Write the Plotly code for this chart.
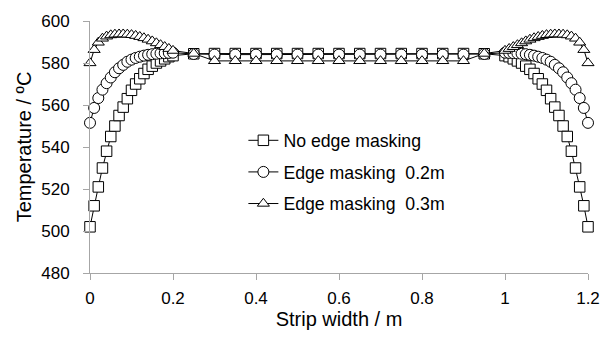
import plotly.graph_objects as go

# Strip positions (m): fine steps near each edge, coarse steps across the centre
x_left = [0.00, 0.01, 0.02, 0.03, 0.04, 0.05, 0.06, 0.07, 0.08, 0.09, 0.10,
          0.11, 0.12, 0.13, 0.14, 0.15, 0.16, 0.17, 0.18, 0.19, 0.20]
x_mid = [0.25, 0.30, 0.35, 0.40, 0.45, 0.50, 0.55, 0.60, 0.65, 0.70, 0.75,
         0.80, 0.85, 0.90, 0.95]
x_right = [1.00, 1.01, 1.02, 1.03, 1.04, 1.05, 1.06, 1.07, 1.08, 1.09, 1.10,
           1.11, 1.12, 1.13, 1.14, 1.15, 1.16, 1.17, 1.18, 1.19, 1.20]
strip_x = x_left + x_mid + x_right

# Temperature profiles (ºC)
no_mask = [502.0, 512.0, 521.0, 530.0, 538.0, 545.0, 550.0, 555.0, 559.0, 563.0, 567.0,
           570.0, 572.5, 575.0, 577.0, 578.5, 580.0, 581.0, 582.0, 583.0, 583.5,
           584.4, 584.5, 584.5, 584.5, 584.5, 584.5, 584.5, 584.5, 584.5, 584.5,
           584.5, 584.5, 584.5, 584.5, 584.4,
           583.5, 583.0, 582.0, 581.0, 580.0, 578.5, 577.0, 575.0, 572.5, 570.0,
           567.0, 563.0, 559.0, 555.0, 550.0, 545.0, 538.0, 530.0, 521.0, 512.0, 502.0]

mask_02 = [551.5, 558.6, 563.3, 567.3, 570.4, 573.1, 575.6, 577.5, 579.1, 580.6, 581.6,
           582.4, 583.0, 583.5, 583.9, 584.2, 584.4, 584.6, 584.7, 584.8, 584.9,
           584.3, 584.0, 584.0, 584.0, 584.0, 584.0, 584.0, 584.0, 584.0, 584.0,
           584.0, 584.0, 584.0, 584.0, 584.3,
           584.9, 584.8, 584.7, 584.6, 584.4, 584.2, 583.9, 583.5, 583.0, 582.4,
           581.6, 580.6, 579.1, 577.5, 575.6, 573.1, 570.4, 567.3, 563.3, 558.6, 551.5]

mask_03 = [580.0, 586.3, 589.8, 591.7, 592.7, 593.3, 593.6, 593.7, 593.7, 593.6, 593.4,
           593.0, 592.5, 591.9, 591.2, 590.4, 589.5, 588.6, 587.7, 586.8, 585.9,
           584.5, 581.0, 581.0, 581.0, 581.0, 581.0, 581.0, 581.0, 581.0, 581.0,
           581.0, 581.0, 581.0, 581.0, 584.5,
           585.9, 586.8, 587.7, 588.6, 589.5, 590.4, 591.2, 591.9, 592.5, 593.0,
           593.4, 593.6, 593.7, 593.7, 593.6, 593.3, 592.7, 591.7, 589.8, 586.3, 580.0]

series_names = ["No edge masking", "Edge masking  0.2m", "Edge masking  0.3m"]
series_values = [no_mask, mask_02, mask_03]
series_symbols = ["square", "circle", "triangle-up"]
series_sizes = [10.5, 11, 10.5]

FONT = "Liberation Sans, Arial, sans-serif"
AXIS_GREY = "#a6a6a6"

fig = go.Figure()
for name, vals, sym, sz in zip(series_names, series_values, series_symbols, series_sizes):
    fig.add_trace(go.Scatter(
        x=strip_x, y=vals, name=name, mode="lines+markers",
        legendgroup=name,
        line=dict(color="black", width=1),
        marker=dict(symbol=sym, size=sz, color="white",
                    line=dict(color="black", width=1)),
        cliponaxis=False,
    ))

fig.update_layout(
    width=614, height=338,
    margin=dict(l=90, r=26, t=19, b=65),
    paper_bgcolor="white", plot_bgcolor="white",
    font=dict(family=FONT, size=17, color="black"),
    showlegend=True,
    legend=dict(x=0.308, y=0.598, xanchor="left", yanchor="top",
                bgcolor="rgba(0,0,0,0)", tracegroupgap=5.6,
                font=dict(family=FONT, size=17.7, color="black")),
)
fig.update_xaxes(
    range=[0, 1.2], tick0=0, dtick=0.2,
    showline=True, linecolor=AXIS_GREY, linewidth=1,
    ticks="outside", ticklen=6, tickcolor=AXIS_GREY,
    ticklabelstandoff=4,
    showgrid=False, zeroline=False,
    title=dict(text="Strip width / m", standoff=0),
)
fig.update_yaxes(
    range=[480, 600], tick0=480, dtick=20,
    showline=True, linecolor=AXIS_GREY, linewidth=1,
    ticks="outside", ticklen=6, tickcolor=AXIS_GREY,
    ticklabelstandoff=10,
    showgrid=False, zeroline=False,
    title=dict(text="Temperature / ºC", standoff=4),
)

fig.write_html("out.html")
